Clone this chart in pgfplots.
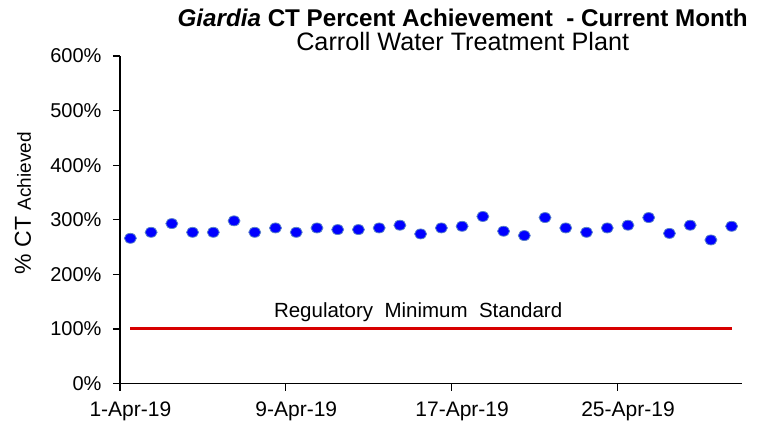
\documentclass[border=0pt]{standalone}
\usepackage{fontspec}
\setmainfont{Liberation Sans}
\usepackage{pgfplots}
\usepackage{pgfplotstable}
\pgfplotsset{compat=1.18}
\definecolor{ptblue}{RGB}{0,0,255}
\definecolor{ptedge}{RGB}{90,130,200}
\definecolor{regred}{RGB}{215,0,0}

\pgfplotstableread{
day val
0.5 266
1.5 277
2.5 293
3.5 277
4.5 277
5.5 298
6.5 277
7.5 285
8.5 277
9.5 285
10.5 282
11.5 282
12.5 285
13.5 290
14.5 274
15.5 285
16.5 288
17.5 306
18.5 279
19.5 271
20.5 304
21.5 285
22.5 277
23.5 285
24.5 290
25.5 304
26.5 275
27.5 290
28.5 263
29.5 288
}\ctdata

\begin{document}
\begin{tikzpicture}
\begin{axis}[
  at={(0,0)}, anchor=south west,
  scale only axis, width=622pt, height=327.5pt,
  xmin=0, xmax=30, ymin=0, ymax=600,
  axis lines=left, axis line style={-, line width=1.2pt, black},
  xtick={0,8,16,24},
  xticklabels={1-Apr-19,9-Apr-19,17-Apr-19,25-Apr-19},
  ytick={0,100,200,300,400,500,600},
  yticklabels={0\%,100\%,200\%,300\%,400\%,500\%,600\%},
  tick align=outside, major tick length=7pt,
  tick style={black, line width=1.2pt},
  xticklabel style={xshift=10.4pt, yshift=-8pt, font=\fontsize{21}{24}\selectfont},
  yticklabel style={xshift=-8pt, font=\fontsize{20}{22}\selectfont},
  ylabel={\fontsize{23}{25}\selectfont\%~CT \fontsize{19}{21}\selectfont Achieved},
  ylabel style={at={(axis description cs:-0.156,0.55)}, anchor=center},
  clip=false,
]
\addplot[regred, line width=3pt] coordinates {(0.5,100) (29.5,100)};
\addplot[only marks, mark=*, mark size=5pt,
  mark options={fill=ptblue, draw=ptedge, line width=0.8pt, xscale=1.2}]
  table[x=day, y=val] {\ctdata};
\node[anchor=base, yshift=11pt, font=\fontsize{20.5}{24}\selectfont]
  at (axis cs:14.38,100) {Regulatory\ \ Minimum\ \ Standard};
\node[anchor=base, font=\fontsize{24.2}{27}\selectfont\bfseries]
  at (axis description cs:0.551,1.0916) {\textit{Giardia} CT Percent Achievement\ \ - Current Month};
\node[anchor=base, font=\fontsize{25.2}{28}\selectfont]
  at (axis description cs:0.551,1.0183) {Carroll Water Treatment Plant};
\end{axis}
\pgfresetboundingbox
\path[use as bounding box] (-120pt,-37.5pt) rectangle (645pt,383.5pt);
\end{tikzpicture}
\end{document}
